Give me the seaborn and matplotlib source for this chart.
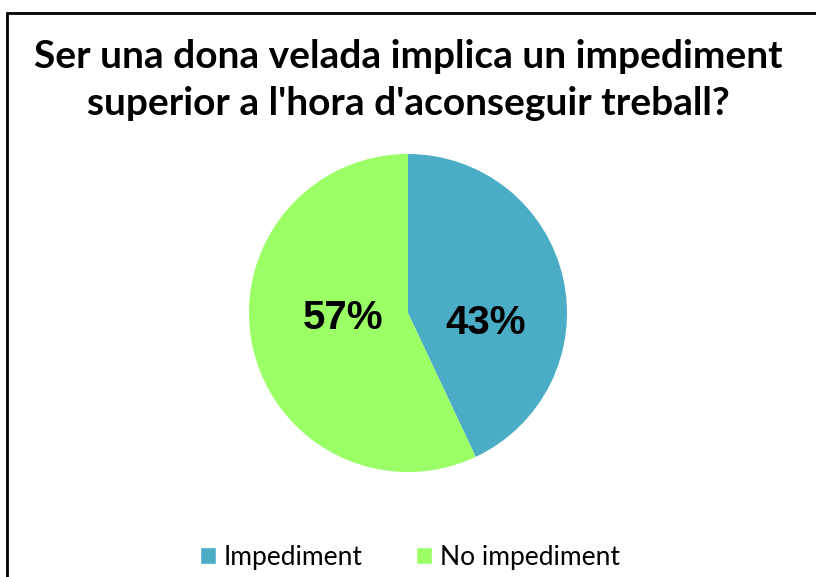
import matplotlib
matplotlib.use("Agg")
import matplotlib.pyplot as plt
import seaborn as sns
from matplotlib.patches import Rectangle

sns.set_style("white")

title = "Ser una dona velada implica un impediment\nsuperior a l'hora d'aconseguir treball?"
categories = ["Impediment", "No impediment"]
values = [43, 57]
colors = ["#4BACC6", "#9BFF66"]

W, H = 816, 577
fig = plt.figure(figsize=(W / 100, H / 100), dpi=100)

# chart border (cut off at right and bottom)
fig.patches.append(Rectangle((7 / W, -0.1), 1.2, 1.1 - 13 / H, transform=fig.transFigure,
                             fill=False, edgecolor="black", linewidth=2))

fig.text(0.5, 1 - 80 / H, title, ha="center", va="center", fontsize=28,
         fontweight="bold", family=["Lato", "DejaVu Sans"], linespacing=1.4, color="black")

r = 159
cx, cy = 408, 313
ax = fig.add_axes([(cx - r) / W, 1 - (cy + r) / H, 2 * r / W, 2 * r / H])
wedges, _ = ax.pie(values, colors=colors, startangle=90, counterclock=False,
                   radius=1, wedgeprops=dict(linewidth=0))
ax.set_xlim(-1, 1)
ax.set_ylim(-1, 1)
ax.set_aspect("auto")

# label placement inside each slice (axes units)
label_pos = [(0.49, -0.06), (-0.41, -0.03)]
for (lx, ly), v in zip(label_pos, values):
    ax.text(lx, ly, f"{v}%", ha="center", va="center", color="black",
            fontsize=29, fontweight="bold", family=["Liberation Sans", "DejaVu Sans"])

handles = [Rectangle((0, 0), 1, 1, facecolor=c) for c in colors]
fig.legend(handles, categories, loc="center", bbox_to_anchor=(410 / W, 1 - 557 / H),
           ncol=2, frameon=False, prop={"family": ["Lato", "DejaVu Sans"], "size": 19},
           labelcolor="black", handlelength=0.6, handleheight=0.6, handletextpad=0.3,
           columnspacing=2.0)

fig.savefig("out.png", dpi=100)
